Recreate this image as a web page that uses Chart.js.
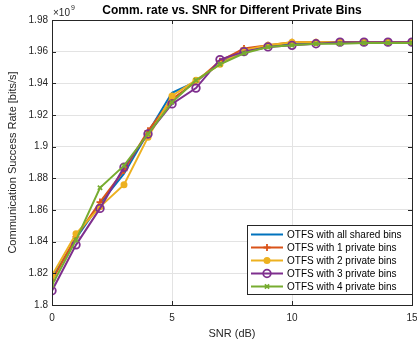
<!DOCTYPE html>
<html>
<head>
<meta charset="utf-8">
<script src="https://cdn.jsdelivr.net/npm/chart.js@4.4.0/dist/chart.umd.min.js"></script>
<style>body{margin:0;background:#fff}</style>
</head>
<body>
<canvas id="myChart" width="417" height="343"></canvas>
<script>
// dados (taxa em unidades de 1e9 bits/s)
const snrX = [0, 1, 2, 3, 4, 5, 6, 7, 8, 9, 10, 11, 12, 13, 14, 15];
const rateShared = [1.817, 1.842, 1.864, 1.883, 1.909, 1.934, 1.941, 1.953, 1.960, 1.963, 1.965, 1.9655, 1.966, 1.966, 1.966, 1.966];
const rate1Bin = [1.8155, 1.843, 1.865, 1.885, 1.910, 1.930, 1.941, 1.954, 1.962, 1.964, 1.966, 1.966, 1.966, 1.966, 1.966, 1.966];
const rate2Bin = [1.8187, 1.845, 1.862, 1.876, 1.906, 1.932, 1.942, 1.952, 1.961, 1.964, 1.966, 1.966, 1.966, 1.966, 1.966, 1.966];
const rate3Bin = [1.809, 1.838, 1.861, 1.887, 1.908, 1.927, 1.937, 1.955, 1.960, 1.963, 1.964, 1.965, 1.966, 1.966, 1.966, 1.966];
const rate4Bin = [1.8126, 1.841, 1.874, 1.888, 1.908, 1.928, 1.942, 1.952, 1.959, 1.963, 1.964, 1.965, 1.965, 1.9655, 1.9655, 1.9655];
const seriesLabels = ['OTFS with all shared bins', 'OTFS with 1 private bins', 'OTFS with 2 private bins', 'OTFS with 3 private bins', 'OTFS with 4 private bins'];
const yTicks = [1.8, 1.82, 1.84, 1.86, 1.88, 1.9, 1.92, 1.94, 1.96, 1.98];
const xTicks = [0, 5, 10, 15];

const axisColor = '#262626';
const fontFam = '"Liberation Sans", Arial, Helvetica, sans-serif';

function toXY(ys) {
    return snrX.map(function (x, i) { return { x: x, y: ys[i] }; });
}

// estilos de cada serie (cores padrao do MATLAB)
const styles = [
    { color: '#0072BD', pointStyle: false, radius: 0, fill: false },
    { color: '#D95319', pointStyle: 'cross', radius: 3.5, fill: false },
    { color: '#EDB120', pointStyle: 'circle', radius: 2.6, fill: true },
    { color: '#7E2F8E', pointStyle: 'circle', radius: 3.8, fill: false },
    { color: '#77AC30', pointStyle: 'crossRot', radius: 3, fill: false }
];
const allRates = [rateShared, rate1Bin, rate2Bin, rate3Bin, rate4Bin];

const datasets = allRates.map(function (r, i) {
    const s = styles[i];
    return {
        label: seriesLabels[i],
        data: toXY(r),
        borderColor: s.color,
        backgroundColor: s.fill ? s.color : 'rgba(0,0,0,0)',
        pointBorderColor: s.color,
        pointBackgroundColor: s.fill ? s.color : 'rgba(0,0,0,0)',
        pointStyle: s.pointStyle,
        pointRadius: s.radius,
        pointBorderWidth: 1.8,
        borderWidth: 2,
        tension: 0,
        order: 4 - i
    };
});

function drawMarker(ctx, s, x, y) {
    if (!s.pointStyle) return;
    ctx.save();
    ctx.strokeStyle = s.color;
    ctx.fillStyle = s.color;
    ctx.lineWidth = 1.8;
    const r = s.radius;
    ctx.beginPath();
    if (s.pointStyle === 'circle') {
        ctx.arc(x, y, r, 0, Math.PI * 2);
        if (s.fill) ctx.fill();
        ctx.stroke();
    } else if (s.pointStyle === 'cross') {
        ctx.moveTo(x - r, y); ctx.lineTo(x + r, y);
        ctx.moveTo(x, y - r); ctx.lineTo(x, y + r);
        ctx.stroke();
    } else {
        const d = r * 0.707;
        ctx.moveTo(x - d, y - d); ctx.lineTo(x + d, y + d);
        ctx.moveTo(x - d, y + d); ctx.lineTo(x + d, y - d);
        ctx.stroke();
    }
    ctx.restore();
}

// caixa, ticks internos, legenda, titulo e expoente
const matlabLook = {
    id: 'matlabLook',
    afterDraw: function (chart) {
        const ctx = chart.ctx;
        const a = chart.chartArea;
        const xs = chart.scales.x, ys = chart.scales.y;
        ctx.save();
        ctx.strokeStyle = axisColor;
        ctx.lineWidth = 1;
        ctx.strokeRect(Math.round(a.left) + 0.5, Math.round(a.top) + 0.5, Math.round(a.right - a.left), Math.round(a.bottom - a.top));
        ctx.beginPath();
        xTicks.forEach(function (v) {
            const px = Math.round(xs.getPixelForValue(v)) + 0.5;
            ctx.moveTo(px, a.bottom); ctx.lineTo(px, a.bottom - 4);
            ctx.moveTo(px, a.top); ctx.lineTo(px, a.top + 4);
        });
        yTicks.forEach(function (v) {
            const py = Math.round(ys.getPixelForValue(v)) + 0.5;
            ctx.moveTo(a.left, py); ctx.lineTo(a.left + 4, py);
            ctx.moveTo(a.right, py); ctx.lineTo(a.right - 4, py);
        });
        ctx.stroke();

        // legenda
        const lx = 247, ly = 225, lw = 165, lh = 69, rowH = 13;
        ctx.fillStyle = '#fff';
        ctx.fillRect(lx, ly, lw, lh);
        ctx.strokeStyle = axisColor;
        ctx.strokeRect(lx + 0.5, ly + 0.5, lw, lh);
        ctx.font = '10px ' + fontFam;
        ctx.textBaseline = 'middle';
        ctx.textAlign = 'left';
        seriesLabels.forEach(function (lab, i) {
            const y = ly + 9.5 + i * rowH;
            const s = styles[i];
            ctx.strokeStyle = s.color;
            ctx.lineWidth = 2;
            ctx.beginPath();
            ctx.moveTo(251, y); ctx.lineTo(283, y);
            ctx.stroke();
            drawMarker(ctx, s, 267, y);
            ctx.fillStyle = '#000';
            ctx.fillText(lab, 287, y + 0.5);
        });

        // titulo
        ctx.fillStyle = '#000';
        ctx.font = 'bold 12px ' + fontFam;
        ctx.textAlign = 'center';
        ctx.fillText('Comm. rate vs. SNR for Different Private Bins', (a.left + a.right) / 2, 11);

        // expoente x10^9
        ctx.fillStyle = axisColor;
        ctx.textAlign = 'left';
        ctx.font = '10px ' + fontFam;
        const w = ctx.measureText('\u00d710').width;
        ctx.fillText('\u00d710', a.left + 1, 13);
        ctx.font = '7px ' + fontFam;
        ctx.fillText('9', a.left + 2 + w, 8);
        ctx.restore();
    }
};

const ctx = document.getElementById('myChart').getContext('2d');
const myChart = new Chart(ctx, {
    type: 'line',
    data: { datasets: datasets },
    options: {
        responsive: false,
        animation: false,
        layout: { autoPadding: false, padding: { top: 20, right: 5, left: 0, bottom: 0 } },
        plugins: { legend: { display: false }, tooltip: { enabled: false }, title: { display: false } },
        scales: {
            x: {
                type: 'linear',
                min: 0,
                max: 15,
                afterFit: function (scale) {
                    scale.height = 38;
                    scale.paddingLeft = 0;
                    scale.paddingRight = 0;
                },
                afterBuildTicks: function (scale) { scale.ticks = xTicks.map(function (v) { return { value: v }; }); },
                grid: { color: '#e3e3e3', drawTicks: false },
                border: { display: false },
                ticks: { color: axisColor, font: { size: 10, family: fontFam }, padding: 7, maxRotation: 0 },
                title: { display: true, text: 'SNR (dB)', color: axisColor, font: { size: 11, family: fontFam }, padding: { top: 0, bottom: 2 } }
            },
            y: {
                min: 1.8,
                max: 1.98,
                afterFit: function (scale) {
                    scale.width = 52;
                    scale.paddingTop = 0;
                    scale.paddingBottom = 0;
                },
                afterBuildTicks: function (scale) { scale.ticks = yTicks.map(function (v) { return { value: v }; }); },
                grid: { color: '#e3e3e3', drawTicks: false },
                border: { display: false },
                ticks: {
                    color: axisColor,
                    font: { size: 10, family: fontFam },
                    padding: 4,
                    callback: function (v) { return String(Number(v.toFixed(2))); }
                },
                title: { display: true, text: 'Communication Success Rate [bits/s]', color: axisColor, font: { size: 11, family: fontFam }, padding: { top: 6, bottom: 0 } }
            }
        }
    },
    plugins: [matlabLook]
});
</script>
</body>
</html>
